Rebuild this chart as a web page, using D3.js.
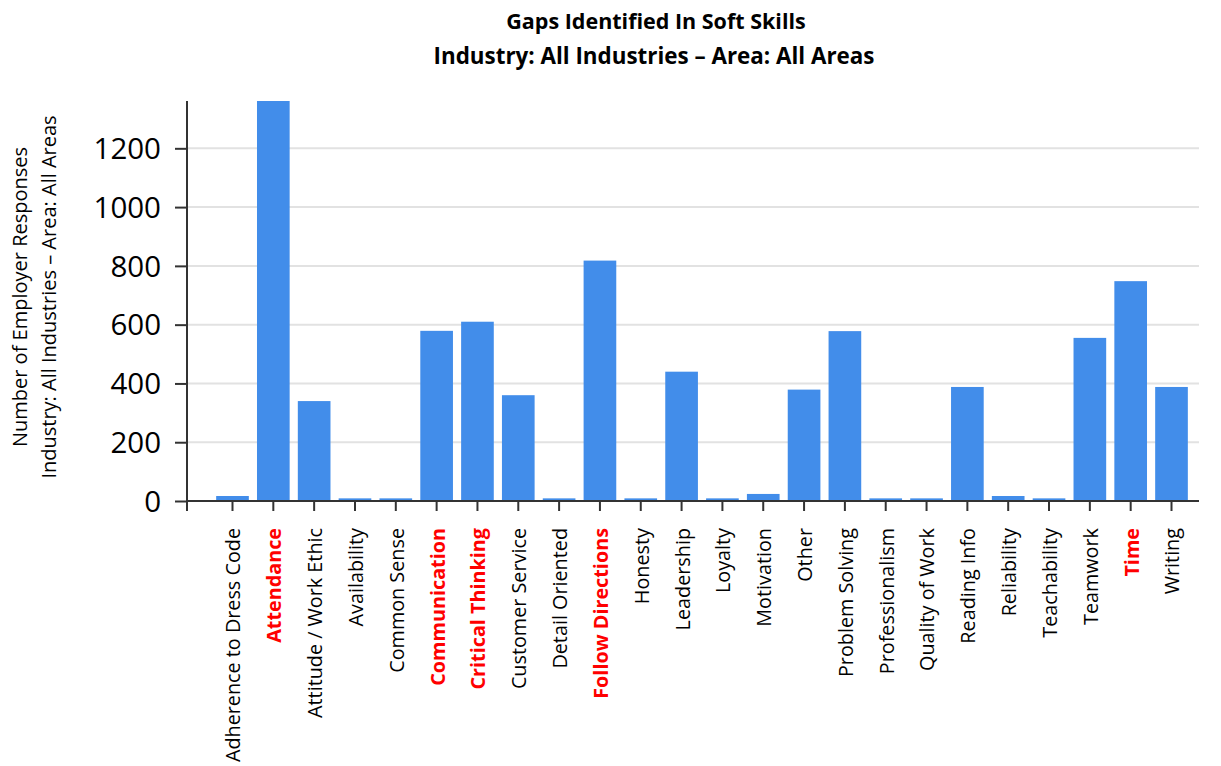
<!DOCTYPE html>
<html>
<head>
<meta charset="utf-8">
<script src="https://cdn.jsdelivr.net/npm/d3@7"></script>
<style>
  body { margin: 0; background: #fff; }
  svg text { font-family: "Open Sans", sans-serif; }
</style>
</head>
<body>
<svg id="viz"></svg>
<script>
// skills asked about, in the order shown
var skills = ["Adherence to Dress Code", "Attendance", "Attitude / Work Ethic", "Availability",
  "Common Sense", "Communication", "Critical Thinking", "Customer Service", "Detail Oriented",
  "Follow Directions", "Honesty", "Leadership", "Loyalty", "Motivation", "Other",
  "Problem Solving", "Professionalism", "Quality of Work", "Reading Info", "Reliability",
  "Teachability", "Teamwork", "Time", "Writing"];

var responses = [17, 1361, 340, 9, 9, 579, 610, 360, 9, 818, 9, 440, 9, 24, 379,
  578, 9, 9, 388, 17, 9, 555, 748, 388];

// labels drawn in bold red
var highlighted = ["Attendance", "Communication", "Critical Thinking", "Follow Directions", "Time"];

var yTicks = [0, 200, 400, 600, 800, 1000, 1200];

var width = 1221;
var height = 766;

var svg = d3.select("#viz")
  .attr("width", width)
  .attr("height", height)
  .style("display", "block")

var plotLeft = 187, plotRight = 1199, baseline = 501, plotTop = 101;

var x = d3.scaleBand().domain(skills).range([plotLeft + 21, plotRight - 3]).padding(0.2)
var y = d3.scaleLinear().domain([0, d3.max(responses)]).range([baseline, plotTop])

// gridlines
svg.selectAll(".grid")
  .data(yTicks.filter(d => d > 0))
  .join("line")
  .attr("class", "grid")
  .attr("x1", plotLeft).attr("x2", plotRight)
  .attr("y1", d => y(d)).attr("y2", d => y(d))
  .style("stroke", "#e2e2e2")
  .style("stroke-width", 2)

// bars
svg.selectAll(".bar")
  .data(responses)
  .join("rect")
  .attr("class", "bar")
  .attr("x", (d, i) => x(skills[i]))
  .attr("width", x.bandwidth())
  .attr("y", d => y(d))
  .attr("height", d => baseline - y(d))
  .style("fill", "#428dea")

// y axis
var yAxis = svg.append("g")
  .attr("transform", "translate(" + plotLeft + ",0)")
  .call(d3.axisLeft(y).tickValues(yTicks).tickFormat(d3.format("d"))
    .tickSize(12).tickSizeOuter(0).tickPadding(14))
yAxis.select(".domain").remove()
yAxis.selectAll(".tick line").style("stroke", "#333").style("stroke-width", 2)
yAxis.selectAll("text").style("font-size", "29.5px").style("fill", "#000")
  .attr("dy", "0.35em")

svg.append("line")
  .attr("x1", plotLeft).attr("x2", plotLeft)
  .attr("y1", plotTop).attr("y2", baseline + 10)
  .style("stroke", "#333").style("stroke-width", 2)

// x axis
var xAxis = svg.append("g")
  .attr("transform", "translate(0," + baseline + ")")
  .call(d3.axisBottom(x).tickSize(10).tickSizeOuter(0))
xAxis.select(".domain").remove()
xAxis.selectAll(".tick line").style("stroke", "#333").style("stroke-width", 2)
xAxis.selectAll("text")
  .attr("transform", "rotate(-90)")
  .attr("x", -27)
  .attr("y", 1)
  .attr("dy", "0.35em")
  .style("text-anchor", "end")
  .style("font-size", "19.8px")
  .style("fill", d => highlighted.includes(d) ? "#ff0000" : "#000")
  .style("font-weight", d => highlighted.includes(d) ? "bold" : "normal")

svg.append("line")
  .attr("x1", plotLeft).attr("x2", plotRight)
  .attr("y1", baseline).attr("y2", baseline)
  .style("stroke", "#333").style("stroke-width", 2)

// titles
svg.append("text")
  .attr("x", 656).attr("y", 29)
  .attr("text-anchor", "middle")
  .style("font-weight", "bold")
  .style("font-size", "21.5px")
  .text("Gaps Identified In Soft Skills")
svg.append("text")
  .attr("x", 654).attr("y", 64)
  .attr("text-anchor", "middle")
  .style("font-weight", "bold")
  .style("font-size", "22.4px")
  .text("Industry: All Industries \u2013 Area: All Areas")

var ytitle = svg.append("text")
  .attr("transform", "translate(0,297) rotate(-90)")
  .attr("text-anchor", "middle")
  .style("font-size", "20px")
ytitle.append("tspan").attr("x", 0).attr("y", 27).text("Number of Employer Responses")
ytitle.append("tspan").attr("x", 0).attr("y", 56).text("Industry: All Industries \u2013 Area: All Areas")
</script>
</body>
</html>
